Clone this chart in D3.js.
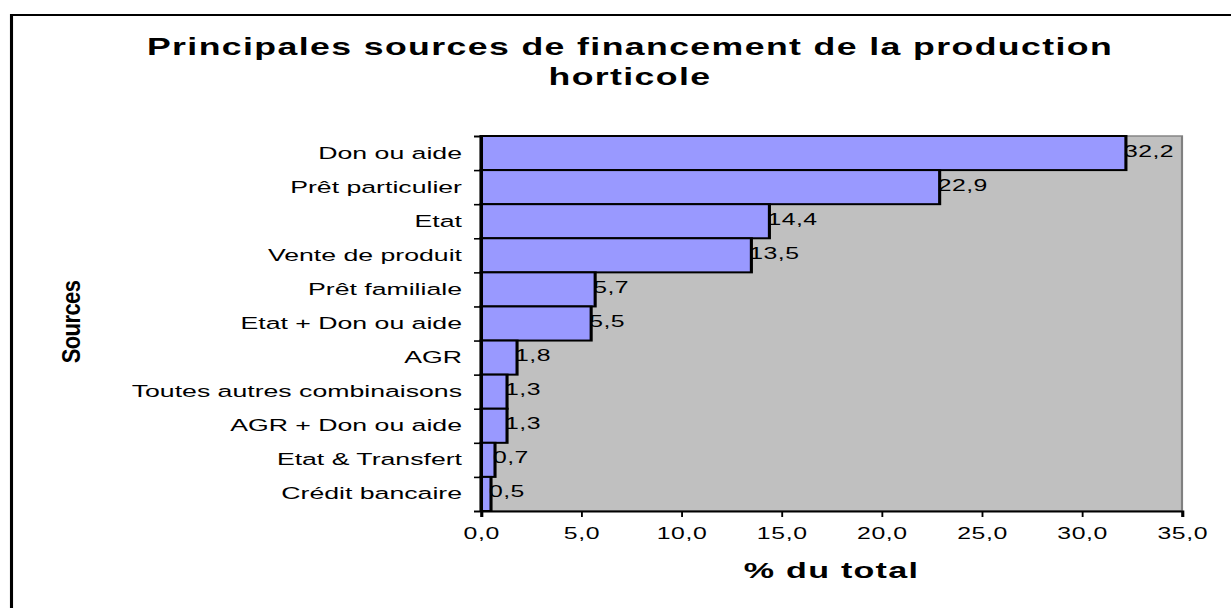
<!DOCTYPE html>
<html>
<head>
<meta charset="utf-8">
<script src="https://cdn.jsdelivr.net/npm/d3@7"></script>
<style>
	body { margin: 0; background: #fff; }
	text { font-family: "Liberation Sans", Arial, sans-serif; fill: #000; }
</style>
</head>
<body>
<div id="chart-area"></div>
<script>
// chart values
var categories = ['Don ou aide', 'Prêt particulier', 'Etat', 'Vente de produit', 'Prêt familiale',
	'Etat + Don ou aide', 'AGR', 'Toutes autres combinaisons', 'AGR + Don ou aide',
	'Etat & Transfert', 'Crédit bancaire'];
var values = [32.2, 22.9, 14.4, 13.5, 5.7, 5.5, 1.8, 1.3, 1.3, 0.7, 0.5];
var xTicks = [0, 5, 10, 15, 20, 25, 30, 35];
var titleLines = ['Principales sources de financement de la production', 'horticole'];

// the original picture is stretched sideways, so draw in a squeezed box
var S = 1.55,
	W = 1231,
	H = 608;
var sx = v => v / S;
var fmt = d => d.toFixed(1).replace('.', ',');

var plot = { left: sx(481), right: sx(1182), top: 136, bottom: 511 };

var svg = d3.select('#chart-area')
	.append('svg')
		.attr('width', W)
		.attr('height', H)
		.attr('viewBox', '0 0 ' + sx(W) + ' ' + H)
		.attr('preserveAspectRatio', 'none');

// outer frame (only top and left are inside the shot)
svg.append('rect')
	.attr('x', sx(11.5))
	.attr('y', 15)
	.attr('width', sx(W) + 20)
	.attr('height', H + 20)
	.attr('fill', 'none')
	.attr('stroke', '#000')
	.attr('stroke-width', 2);

// title
svg.selectAll('.title')
	.data(titleLines)
	.enter().append('text')
		.attr('class', 'title')
		.attr('x', sx(630))
		.attr('y', (d, i) => 55 + i * 30)
		.attr('text-anchor', 'middle')
		.attr('font-size', '23px')
		.attr('font-weight', 'bold')
		.attr('letter-spacing', '0.9px')
		.text(d => d);

var xScale = d3.scaleLinear()
	.domain([0, 35])
	.range([plot.left, plot.right]);

var yScale = d3.scaleBand()
	.domain(categories)
	.range([plot.top, plot.bottom])
	.padding(0);

var yEdges = d3.scaleLinear()
	.domain([0, categories.length])
	.range([plot.top, plot.bottom]);

// plot area
svg.append('rect')
	.attr('x', plot.left)
	.attr('y', plot.top)
	.attr('width', plot.right - plot.left)
	.attr('height', plot.bottom - plot.top)
	.attr('fill', '#c0c0c0')
	.attr('stroke', '#808080')
	.attr('stroke-width', 1.4);

// bars
svg.selectAll('.bar')
	.data(values)
	.enter().append('rect')
		.attr('class', 'bar')
		.attr('x', xScale(0))
		.attr('y', (d, i) => yScale(categories[i]))
		.attr('width', d => xScale(d) - xScale(0))
		.attr('height', yScale.bandwidth())
		.attr('fill', '#9999ff')
		.attr('stroke', '#000')
		.attr('stroke-width', 2);

// value labels
svg.selectAll('.value')
	.data(values)
	.enter().append('text')
		.attr('class', 'value')
		.attr('x', d => xScale(d) - sx(2))
		.attr('y', (d, i) => yScale(categories[i]) + yScale.bandwidth() / 2 + 3.5)
		.attr('font-size', '16px')
		.attr('letter-spacing', '0.3px')
		.text(d => fmt(d));

// x axis
var xAxis = d3.axisBottom(xScale)
	.tickValues(xTicks)
	.tickSize(6)
	.tickPadding(11)
	.tickFormat(fmt);

var xAxisGroup = svg.append('g')
	.attr('class', 'x-axis')
	.attr('transform', 'translate(0, ' + plot.bottom + ')')
	.call(xAxis);
xAxisGroup.select('.domain').attr('stroke', '#000').attr('stroke-width', 2);
xAxisGroup.selectAll('.tick line').attr('stroke', '#000').attr('stroke-width', 1.2);
xAxisGroup.selectAll('.tick text')
	.attr('font-size', '16px')
	.attr('letter-spacing', '0.4px')
	.attr('font-family', '"Liberation Sans", Arial, sans-serif')
	.attr('fill', '#000');

// y axis: ticks on the band edges, labels in the middle
var yTickAxis = d3.axisLeft(yEdges)
	.tickValues(d3.range(categories.length + 1))
	.tickSize(sx(7))
	.tickFormat('');

var yTickGroup = svg.append('g')
	.attr('class', 'y-axis')
	.attr('transform', 'translate(' + plot.left + ', 0)')
	.call(yTickAxis);
yTickGroup.select('.domain').attr('stroke', '#000').attr('stroke-width', 1.6);
yTickGroup.selectAll('.tick line').attr('stroke', '#000').attr('stroke-width', 1.6);

var yLabelGroup = svg.append('g')
	.attr('class', 'y-labels')
	.attr('transform', 'translate(' + plot.left + ', 0)')
	.call(d3.axisLeft(yScale).tickSize(0).tickPadding(sx(19)));
yLabelGroup.select('.domain').remove();
yLabelGroup.selectAll('.tick text')
	.attr('font-size', '17.2px')
	.attr('font-family', '"Liberation Sans", Arial, sans-serif')
	.attr('fill', '#000');

// axis titles
svg.append('text')
	.attr('x', (plot.left + plot.right) / 2)
	.attr('y', 578)
	.attr('text-anchor', 'middle')
	.attr('font-size', '22px')
	.attr('font-weight', 'bold')
	.attr('letter-spacing', '0.8px')
	.text('% du total');

svg.append('text')
	.attr('transform', 'translate(' + sx(71) + ', 322) scale(' + (1.15 / S) + ', 1) rotate(-90)')
	.attr('text-anchor', 'middle')
	.attr('dy', '0.36em')
	.attr('font-size', '22px')
	.attr('font-weight', 'bold')
	.attr('letter-spacing', '-0.6px')
	.text('Sources');
</script>
</body>
</html>
